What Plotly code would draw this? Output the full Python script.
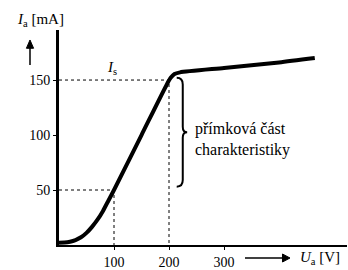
import plotly.graph_objects as go

# Anode characteristic
Ua = [0, 10, 20, 30, 40, 50, 60, 70, 80, 90, 100, 150, 196, 203, 210, 220, 300, 400, 465]
Ia = [2, 2.2, 3, 4.5, 7, 11, 16.5, 23, 31, 40.5, 50, 100, 146, 152, 155.5, 157, 161, 166, 170]

x_ticks = [100, 200, 300]
y_ticks = [50, 100, 150]

# guide points
guide_u = [100, 200]
guide_i = [50, 150]

# brace range
brace_lo, brace_hi, brace_u = 53, 152, 225

FONT = "Liberation Serif, Times New Roman, serif"

fig = go.Figure()

for u, i in zip(guide_u, guide_i):
    fig.add_trace(go.Scatter(x=[0, u, u], y=[i, i, 0], mode="lines",
                             line=dict(color="black", width=1, dash="3px,3px"),
                             hoverinfo="skip", showlegend=False))

fig.add_trace(go.Scatter(x=Ua, y=Ia, mode="lines",
                         line=dict(color="black", width=4, shape="spline", smoothing=0.6),
                         showlegend=False))

mid = (brace_lo + brace_hi) / 2
x0, x1, x2 = brace_u - 11, brace_u, brace_u + 8
path = (f"M {x0},{brace_hi} Q {x1},{brace_hi} {x1},{brace_hi-6} "
        f"L {x1},{mid+5} Q {x1},{mid} {x2},{mid} Q {x1},{mid} {x1},{mid-5} "
        f"L {x1},{brace_lo+6} Q {x1},{brace_lo} {x0},{brace_lo}")
fig.add_shape(type="path", path=path, xref="x", yref="y",
              line=dict(color="black", width=2))

# axis direction arrows (paper coordinates)
ux, uy_tip, uy_base, uy_bot, uw = -0.1007, 0.9535, 0.915, 0.837, 0.0125
fig.add_shape(type="line", xref="paper", yref="paper", x0=ux, x1=ux, y0=uy_bot, y1=uy_base + 0.01,
              line=dict(color="black", width=1.5))
fig.add_shape(type="path", xref="paper", yref="paper",
              path=f"M {ux-uw},{uy_base} L {ux},{uy_tip} L {ux+uw},{uy_base} Z",
              fillcolor="black", line=dict(color="black", width=1))
ry, rx0, rx_base, rx_tip, rh = -0.0605, 0.6458, 0.776, 0.8021, 0.0186
fig.add_shape(type="line", xref="paper", yref="paper", x0=rx0, x1=rx_base + 0.005, y0=ry, y1=ry,
              line=dict(color="black", width=1.5))
fig.add_shape(type="path", xref="paper", yref="paper",
              path=f"M {rx_base},{ry-rh} L {rx_tip},{ry} L {rx_base},{ry+rh} Z",
              fillcolor="black", line=dict(color="black", width=1))

ann = []
ann.append(dict(x=244, y=96, xref="x", yref="y", xanchor="left", yanchor="middle",
                text="přímková část<br>charakteristiky", showarrow=False, align="left",
                font=dict(family=FONT, size=16, color="black")))
ann.append(dict(x=96, y=161, xref="x", yref="y", text="<i>I</i><sub>s</sub>",
                showarrow=False, font=dict(family=FONT, size=15, color="black")))
ann.append(dict(x=-0.1528, y=1.0465, xref="paper", yref="paper", xanchor="left",
                yanchor="middle", text="<i>I</i><sub>a</sub> [mA]",
                showarrow=False, font=dict(family=FONT, size=15, color="black")))
ann.append(dict(x=0.830, y=-0.0605, xref="paper", yref="paper", xanchor="left",
                yanchor="middle", text="<i>U</i><sub>a</sub> [V]",
                showarrow=False, font=dict(family=FONT, size=15, color="black")))

fig.update_layout(
    width=348, height=270,
    margin=dict(l=59, r=1, t=30, b=25, autoexpand=False),
    paper_bgcolor="white", plot_bgcolor="white",
    annotations=ann,
    xaxis=dict(range=[0, 523.6], showgrid=False, zeroline=False, automargin=False,
               showline=True, linecolor="black", linewidth=2,
               tickvals=x_ticks, ticks="outside", ticklen=3, tickcolor="black",
               tickfont=dict(family=FONT, size=14, color="black")),
    yaxis=dict(range=[0, 195.5], showgrid=False, zeroline=False, automargin=False,
               showline=True, linecolor="black", linewidth=3,
               tickvals=y_ticks, ticks="outside", ticklen=3, tickcolor="black",
               tickfont=dict(family=FONT, size=14, color="black")),
)

fig.write_html("out.html", config={"displayModeBar": False},
               post_script="document.body.style.margin='0';")
